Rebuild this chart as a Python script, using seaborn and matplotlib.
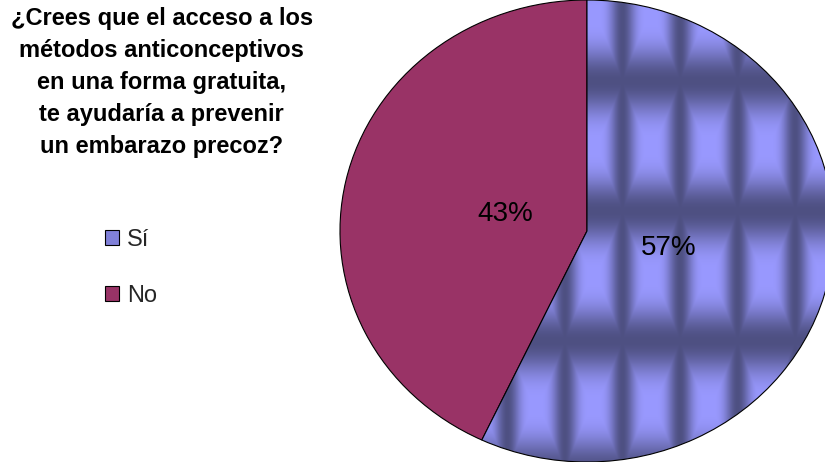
import numpy as np
import matplotlib
matplotlib.use("Agg")
import matplotlib.pyplot as plt
from matplotlib.patches import Patch
import seaborn as sns

# survey answers
labels = ["Sí", "No"]
values = [57, 43]
colors = ["#9999FF", "#993366"]
title = ("¿Crees que el acceso a los\nmétodos anticonceptivos\nen una forma gratuita,\n"
         "te ayudaría a prevenir\nun embarazo precoz?")

sns.set_theme(style="white")
plt.rcParams['font.family'] = ['Liberation Sans', 'DejaVu Sans']

fig = plt.figure(figsize=(8.25, 4.62), dpi=100)
ax = fig.add_axes([0.4121, 0.0, 0.5988, 1.0])

wedges, texts, autotexts = ax.pie(
    values, colors=colors, startangle=90, counterclock=False,
    autopct='%1.0f%%', pctdistance=0.34,
    wedgeprops=dict(edgecolor='black', linewidth=0.8),
    textprops=dict(fontsize=20, color='black'))
ax.set_aspect('auto')
ax.set_xlim(-1, 1)
ax.set_ylim(-1, 1)
ax.axis('off')

# embossed tile texture for the "Sí" slice (Excel style fill)
xs = np.linspace(-1, 1, 800)
ys = np.linspace(1, -1, 800)
gx, gy = np.meshgrid(xs, ys)
px = 587 + 247 * gx
py = 230 - 231 * gy
v = (0.5 + 0.5 * np.cos(2 * np.pi * (px - 622) / 57.5)) ** 2.2
h = (0.5 + 0.5 * np.cos(2 * np.pi * (py - 80) / 130.0)) ** 1.6
t = np.maximum(v, h)[..., None]
light = np.array([153, 153, 255]) / 255
dark = np.array([78, 80, 130]) / 255
tex = light * (1 - t) + dark * t
img = ax.imshow(tex, extent=[-1, 1, -1, 1], zorder=1, aspect='auto', interpolation='bilinear')
img.set_clip_path(wedges[0])
wedges[0].set_facecolor('none')
wedges[0].set_zorder(2)
for w in wedges:
    w.set_clip_on(False)
for a in autotexts:
    a.set_zorder(3)

fig.text(0.196, 0.822, title, ha='center', va='center', multialignment='center',
         fontsize=17, fontweight='bold', linespacing=1.5, color='black')

handles = [Patch(facecolor='#8080D8', edgecolor='black', linewidth=0.8),
           Patch(facecolor=colors[1], edgecolor='black', linewidth=0.8)]
fig.legend(handles, labels, loc='center', bbox_to_anchor=(0.159, 0.42), frameon=False,
           fontsize=17, handlelength=0.6, handleheight=0.6, handletextpad=0.35,
           labelspacing=1.45)

fig.savefig("out.png", dpi=100)
